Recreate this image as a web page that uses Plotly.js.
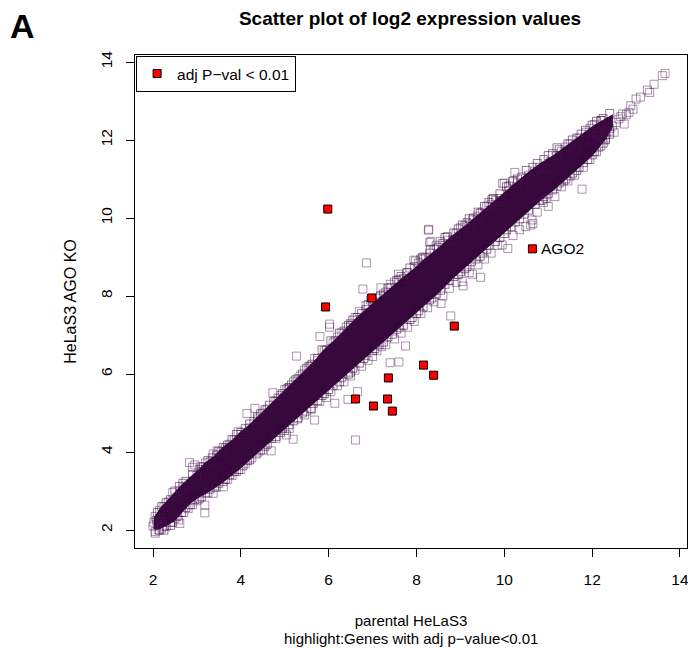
<!DOCTYPE html>
<html>
<head>
<meta charset="utf-8">
<script src="https://cdn.plot.ly/plotly-3.0.1.min.js"></script>
<style>html,body{margin:0;padding:0;background:#fff;}#chart{width:688px;height:648px;}</style>
</head>
<body>
<div id="chart"></div>
<script>
// ---- data ----
const tickVals = [2, 4, 6, 8, 10, 12, 14];

// dense core of the gene cloud (edges of the solid band)
const bandX  = [2.02, 2.10, 2.20, 2.35, 2.50, 2.65, 2.84, 3.00, 3.20, 3.40, 3.60, 3.80, 3.98, 4.20, 4.50, 4.75, 5.00, 5.25, 5.50, 5.70, 5.90, 6.15, 6.40, 6.65, 6.93, 7.20, 7.45, 7.70, 7.95, 8.20, 8.50, 8.80, 9.09, 9.35, 9.60, 9.85, 10.11, 10.35, 10.60, 10.85, 11.14, 11.40, 11.60, 11.80, 12.00, 12.15, 12.30, 12.45];
const bandHi = [2.28, 2.42, 2.58, 2.76, 2.95, 3.13, 3.33, 3.48, 3.71, 3.88, 4.11, 4.28, 4.48, 4.68, 5.01, 5.28, 5.56, 5.84, 6.11, 6.34, 6.61, 6.86, 7.16, 7.44, 7.71, 7.98, 8.21, 8.46, 8.68, 8.94, 9.21, 9.51, 9.76, 10.01, 10.26, 10.51, 10.76, 10.97, 11.20, 11.40, 11.60, 11.82, 11.98, 12.14, 12.32, 12.43, 12.52, 12.62];
const bandLo = [2.05, 2.03, 2.07, 2.16, 2.27, 2.47, 2.70, 2.83, 2.95, 3.10, 3.25, 3.43, 3.60, 3.80, 4.10, 4.35, 4.60, 4.87, 5.10, 5.30, 5.50, 5.75, 6.00, 6.27, 6.55, 6.80, 7.05, 7.30, 7.55, 7.80, 8.10, 8.45, 8.75, 9.00, 9.25, 9.50, 9.75, 10.00, 10.25, 10.50, 10.76, 11.01, 11.22, 11.42, 11.62, 11.83, 12.04, 12.35];

// individual genes visible around the core (open squares)
const geneX = [
  2.00, 2.02, 2.08, 2.10, 2.15, 2.18,
  2.05, 2.15, 2.25, 2.35, 2.45, 2.55, 2.62, 2.70, 2.83, 2.90, 2.95, 3.00, 3.10, 3.20, 3.30, 3.37, 3.46, 3.55, 3.65, 3.75, 3.85, 3.94, 4.02, 4.14,
  4.20, 4.32, 4.40, 4.50, 4.60, 4.73, 4.80, 4.90, 5.00, 5.10, 5.27, 5.20, 5.35, 5.45, 5.55, 5.68, 5.80, 5.75, 5.90, 6.02, 6.02, 6.10, 6.20, 6.30,
  6.40, 6.50, 6.60, 6.78, 6.70, 6.86, 6.85, 6.95, 7.05, 7.19, 7.30, 7.40, 7.50, 7.59, 7.70, 7.80, 7.94, 7.98, 8.14, 8.15, 8.27, 8.28, 8.30, 8.32,
  8.33, 8.45, 8.55, 8.71, 8.83, 8.90, 9.00, 9.10, 9.20, 9.28, 9.40, 9.50, 9.60, 9.70, 9.80, 9.89, 9.91, 9.96, 10.00, 10.11, 10.19, 10.24, 10.30,
  10.45, 10.55, 10.70, 10.80, 10.95, 11.05, 11.20, 11.30, 11.40, 11.50, 11.63, 11.70, 11.85, 11.95, 12.05, 12.20,
  2.05, 2.05, 2.12, 2.20, 2.26, 2.40, 2.50, 2.58, 2.61, 2.70, 2.80, 2.90, 3.00, 3.18, 3.18, 3.25, 3.37, 3.45, 3.60, 3.70, 3.80, 3.90, 4.00, 4.10,
  4.25, 4.40, 4.50, 4.69, 4.80, 5.04, 5.19, 5.10, 5.30, 5.45, 5.60, 5.68, 5.80, 5.95, 6.05, 6.14, 6.20, 6.35, 6.44, 6.50, 6.60, 6.66, 6.61, 6.75,
  6.90, 7.00, 7.10, 7.20, 7.30, 7.40, 7.60, 7.50, 7.65, 7.75, 7.80, 7.95, 8.10, 8.25, 8.40, 8.56, 8.60, 8.78, 8.75, 8.90, 9.04, 9.06, 9.20, 9.27,
  9.46, 9.40, 9.55, 9.70, 9.85, 9.95, 10.08, 10.20, 10.35, 10.49, 10.60, 10.63, 10.65, 10.75, 10.89, 10.95, 10.87, 11.00, 11.15, 11.30, 11.45,
  11.60, 11.77, 11.80, 11.95, 12.10, 12.20, 12.30,
  12.00, 12.10, 12.15, 12.23, 12.28, 12.31, 12.35, 12.39, 12.40, 12.46, 12.50, 12.55, 12.61, 12.65, 12.69, 12.73, 12.78, 12.84, 12.88, 12.93,
  13.00, 13.10, 13.26, 13.31, 13.41, 13.60, 13.66
];
const geneY = [
  2.10, 2.20, 2.25, 2.15, 2.30, 2.20,
  2.35, 2.50, 2.60, 2.72, 2.96, 2.85, 3.00, 3.10, 3.73, 3.61, 3.67, 3.40, 3.50, 3.72, 3.75, 3.95, 4.03, 4.00, 4.10, 4.20, 4.30, 4.52, 4.45, 4.99,
  4.62, 5.12, 4.85, 5.00, 5.10, 5.52, 5.30, 5.45, 5.60, 5.65, 6.46, 5.80, 5.95, 6.10, 6.20, 6.40, 6.96, 6.35, 6.60, 7.28, 7.20, 6.80, 6.95, 7.05,
  7.20, 7.30, 7.45, 8.18, 7.60, 8.85, 7.75, 7.90, 7.85, 8.21, 8.10, 8.30, 8.35, 8.56, 8.45, 8.60, 8.92, 8.90, 8.98, 9.00, 9.69, 9.71, 9.37, 9.20,
  9.40, 9.30, 9.40, 9.43, 9.45, 9.60, 9.75, 9.80, 9.85, 9.95, 10.05, 10.15, 10.30, 10.35, 10.45, 10.42, 10.50, 10.89, 10.89, 10.70, 10.93, 11.17, 10.90,
  10.85, 11.10, 11.20, 11.30, 11.27, 11.45, 11.60, 11.70, 11.82, 11.90, 11.78, 12.05, 12.20, 12.30, 12.40, 12.50,
  1.92, 1.96, 2.00, 2.05, 2.10, 2.20, 2.30, 2.26, 2.17, 2.45, 2.55, 2.65, 2.75, 2.64, 2.44, 2.95, 2.94, 3.10, 3.11, 3.30, 3.40, 3.50, 3.55, 3.70,
  3.85, 4.00, 4.05, 4.03, 4.35, 4.44, 4.33, 4.60, 4.85, 4.95, 5.10, 4.82, 5.30, 5.40, 5.55, 5.25, 5.70, 5.80, 5.35, 5.95, 6.10, 5.55, 4.31, 6.20,
  6.35, 6.45, 6.60, 6.70, 6.75, 6.29, 6.31, 6.90, 7.05, 6.72, 7.20, 7.35, 7.55, 7.70, 7.85, 7.81, 8.00, 7.49, 8.20, 8.35, 8.37, 8.26, 8.60, 8.56,
  8.48, 8.80, 8.95, 9.10, 9.30, 9.31, 9.22, 9.55, 9.70, 9.78, 9.82, 9.95, 9.86, 10.15, 10.40, 10.50, 10.46, 10.30, 10.55, 10.80, 10.95,
  11.10, 10.74, 11.30, 11.50, 11.70, 11.85, 12.00,
  12.00, 11.95, 12.10, 12.05, 12.20, 12.14, 12.35, 12.23, 12.30, 12.36, 12.20, 12.45, 12.54, 12.60, 12.67, 12.41, 12.65, 12.71, 12.88, 12.79,
  13.05, 13.10, 13.28, 13.22, 13.43, 13.65, 13.71
];

// genes sitting right on the edge of the dense core
const edgeX = [
  2.10, 2.30, 2.40, 2.60, 2.75, 3.05, 3.15, 3.35, 3.50, 3.70, 3.90, 4.10, 4.30, 4.45, 4.65, 4.85, 5.05, 5.15, 5.30, 5.50, 5.62, 5.85, 6.05, 6.25,
  6.45, 6.55, 6.75, 6.90, 7.10, 7.25, 7.35, 7.55, 7.65, 7.85, 8.05, 8.20, 8.40, 8.60, 8.70, 8.95, 9.15, 9.30, 9.45, 9.65, 9.75, 10.05, 10.20, 10.40,
  10.65, 10.90, 11.10, 11.25, 11.55, 11.75, 12.10, 12.25, 12.40,
  2.15, 2.30, 2.45, 2.55, 2.75, 2.95, 3.10, 3.30, 3.50, 3.65, 3.85, 4.05, 4.15, 4.35, 4.60, 4.70, 4.90, 5.00, 5.20, 5.40, 5.50, 5.65, 5.85, 6.00,
  6.25, 6.45, 6.55, 6.80, 7.05, 7.15, 7.35, 7.55, 7.70, 7.90, 8.05, 8.30, 8.45, 8.65, 8.85, 9.00, 9.15, 9.35, 9.50, 9.65, 9.90, 10.05, 10.25, 10.45,
  10.70, 10.90, 11.10, 11.25, 11.40, 11.55, 11.70, 11.90, 12.05, 12.25, 12.40,
  2.20, 2.50, 2.68, 2.90, 3.10, 3.25, 3.45, 3.60, 3.80, 4.00, 4.20, 4.38, 4.55, 4.75, 4.95, 5.10, 5.25, 5.40, 5.58, 5.75, 5.95, 6.15, 6.35, 6.50,
  6.65, 6.85, 7.00, 7.18, 7.42, 7.60, 7.78, 7.95, 8.10, 8.30, 8.50, 8.65, 8.85, 9.05, 9.20, 9.40, 9.55, 9.72, 9.90, 10.10, 10.30, 10.50, 10.75,
  11.00, 11.20, 11.45, 11.65, 11.85, 12.00, 12.20,
  2.25, 2.40, 2.65, 2.85, 3.05, 3.20, 3.40, 3.60, 3.75, 3.95, 4.20, 4.45, 4.55, 4.80, 4.95, 5.10, 5.30, 5.60, 5.75, 5.90, 6.10, 6.30, 6.50, 6.70,
  6.85, 7.00, 7.25, 7.45, 7.60, 7.85, 8.00, 8.15, 8.35, 8.55, 8.75, 8.95, 9.10, 9.25, 9.45, 9.60, 9.80, 10.00, 10.15, 10.35, 10.55, 10.80, 11.00,
  11.20, 11.35, 11.50, 11.65, 11.80, 12.00, 12.15, 12.30
];
const edgeY = [
  2.45, 2.70, 2.78, 3.12, 3.25, 3.55, 3.62, 3.85, 4.02, 4.18, 4.45, 4.60, 4.78, 4.98, 5.20, 5.38, 5.62, 5.72, 5.88, 6.15, 6.25, 6.62, 6.85, 7.05,
  7.25, 7.38, 7.55, 7.78, 7.95, 8.05, 8.20, 8.40, 8.50, 8.72, 8.85, 8.98, 9.20, 9.35, 9.52, 9.72, 9.88, 10.00, 10.12, 10.40, 10.50, 10.80, 10.95, 11.05,
  11.30, 11.50, 11.65, 11.75, 12.00, 12.15, 12.48, 12.55, 12.68,
  2.00, 2.10, 2.20, 2.35, 2.58, 2.78, 2.85, 3.05, 3.20, 3.30, 3.50, 3.65, 3.78, 3.95, 4.20, 4.35, 4.50, 4.55, 4.80, 5.00, 5.05, 5.25, 5.45, 5.60,
  5.80, 6.00, 6.15, 6.40, 6.65, 6.75, 6.95, 7.15, 7.25, 7.45, 7.62, 7.90, 8.05, 8.30, 8.50, 8.62, 8.75, 8.95, 9.10, 9.30, 9.50, 9.70, 9.90, 10.10,
  10.35, 10.55, 10.72, 10.90, 11.00, 11.15, 11.30, 11.50, 11.70, 11.92, 12.15,
  2.60, 3.00, 3.20, 3.42, 3.62, 3.78, 3.92, 4.12, 4.32, 4.50, 4.72, 4.90, 5.08, 5.30, 5.50, 5.65, 5.85, 6.00, 6.20, 6.40, 6.62, 6.85, 7.10, 7.25,
  7.45, 7.65, 7.85, 8.00, 8.22, 8.42, 8.60, 8.75, 8.95, 9.10, 9.25, 9.50, 9.62, 9.82, 9.98, 10.15, 10.30, 10.48, 10.62, 10.82, 11.00, 11.22, 11.40,
  11.60, 11.80, 11.90, 12.05, 12.25, 12.38, 12.50,
  2.00, 2.12, 2.45, 2.65, 2.80, 2.95, 3.10, 3.25, 3.42, 3.55, 3.80, 4.05, 4.15, 4.40, 4.60, 4.70, 4.88, 5.12, 5.32, 5.50, 5.70, 5.92, 6.05, 6.28,
  6.48, 6.60, 6.82, 7.02, 7.20, 7.40, 7.55, 7.72, 7.95, 8.15, 8.40, 8.55, 8.70, 8.88, 9.02, 9.20, 9.40, 9.60, 9.78, 9.98, 10.20, 10.45, 10.62,
  10.82, 10.95, 11.08, 11.22, 11.42, 11.62, 11.82, 12.02
];

// genes with adj p-value < 0.01 (red)
const sigX = [5.98, 10.64, 5.93, 6.98, 8.86, 8.16, 8.39, 7.36, 6.61, 7.02, 7.34, 7.45];
const sigY = [10.23, 9.21, 7.72, 7.95, 7.23, 6.23, 5.97, 5.90, 5.36, 5.18, 5.36, 5.05];
const sigNames = ['', 'AGO2', '', '', '', '', '', '', '', '', '', ''];

const seriesName = 'adj P\u2212val &lt; 0.01';
const titleText = 'Scatter plot of log2 expression values';
const xTitle = 'parental HeLaS3';
const xSubTitle = 'highlight:Genes with adj p\u2212value&lt;0.01';
const yTitle = 'HeLaS3 AGO KO';
const panelLabel = 'A';

// ---- build ----
const FONT = 'Liberation Sans, Arial, Helvetica, sans-serif';
const CORE = '#37083c';

const polyX = bandX.concat(bandX.slice().reverse());
const polyY = bandHi.concat(bandLo.slice().reverse());

const traces = [
  {
    type: 'scatter', mode: 'lines', x: polyX, y: polyY,
    fill: 'toself', fillcolor: CORE, line: {color: CORE, width: 2},
    showlegend: false, hoverinfo: 'skip'
  },
  {
    type: 'scatter', mode: 'markers', x: edgeX, y: edgeY,
    marker: {symbol: 'square-open', size: 8, color: 'rgba(55,8,60,0.55)', line: {width: 1}},
    showlegend: false, hoverinfo: 'skip'
  },
  {
    type: 'scatter', mode: 'markers', x: geneX, y: geneY,
    marker: {symbol: 'square-open', size: 8, color: 'rgba(70,20,80,0.45)', line: {width: 1}},
    showlegend: false, hoverinfo: 'skip'
  },
  {
    type: 'scatter', mode: 'markers', x: sigX, y: sigY, name: seriesName,
    marker: {symbol: 'square', size: 8, color: '#ff0000', line: {color: '#000', width: 1}},
    showlegend: true, hoverinfo: 'skip'
  }
];

const annotations = [
  {
    text: '<b>' + panelLabel + '</b>', xref: 'paper', yref: 'paper',
    x: (22 - 135) / 552, y: (548 - 26) / 493, xanchor: 'center', yanchor: 'middle',
    showarrow: false, font: {family: FONT, size: 34, color: '#000'}
  },
  {
    text: xSubTitle, xref: 'paper', yref: 'paper',
    x: 0.5, y: (548 - 638) / 493, xanchor: 'center', yanchor: 'middle',
    showarrow: false, font: {family: FONT, size: 15, color: '#000'}
  }
];
sigNames.forEach((n, i) => {
  if (n) annotations.push({
    text: n, x: sigX[i], y: sigY[i], xref: 'x', yref: 'y',
    xanchor: 'left', yanchor: 'middle', xshift: 7, showarrow: false,
    font: {family: FONT, size: 15.5, color: '#000'}
  });
});

const axisCommon = {
  showgrid: false, zeroline: false, showline: true, linecolor: '#000', linewidth: 1, mirror: true,
  ticks: 'outside', ticklen: 8, tickwidth: 1, tickcolor: '#000',
  tickmode: 'array', tickvals: tickVals, ticktext: tickVals.map(String),
  ticklabeloverflow: 'allow',
  tickfont: {family: FONT, size: 15.5, color: '#000'}
};

const layout = {
  width: 688, height: 648,
  margin: {l: 135, r: 1, t: 55, b: 100},
  paper_bgcolor: '#fff', plot_bgcolor: '#fff',
  font: {family: FONT, color: '#000'},
  title: {text: titleText, x: 410 / 688, xanchor: 'center', y: 1 - 18 / 648, yanchor: 'middle',
          font: {family: FONT, size: 19, weight: 'bold', color: '#000'}},
  xaxis: Object.assign({}, axisCommon, {
    range: [1.59, 14.16], ticklabelstandoff: 9,
    title: {text: xTitle, standoff: 28, font: {family: FONT, size: 15, color: '#000'}}
  }),
  yaxis: Object.assign({}, axisCommon, {
    range: [1.54, 14.18], tickangle: -90, ticklabelstandoff: 8,
    title: {text: yTitle, standoff: 17, font: {family: FONT, size: 16, color: '#000'}}
  }),
  legend: {
    x: 0.002, y: 0.998, xanchor: 'left', yanchor: 'top',
    bgcolor: '#fff', bordercolor: '#000', borderwidth: 1,
    font: {family: FONT, size: 15.5, color: '#000'}
  },
  annotations: annotations,
  showlegend: true
};

Plotly.newPlot('chart', traces, layout, {displayModeBar: false, staticPlot: true});
</script>
</body>
</html>
